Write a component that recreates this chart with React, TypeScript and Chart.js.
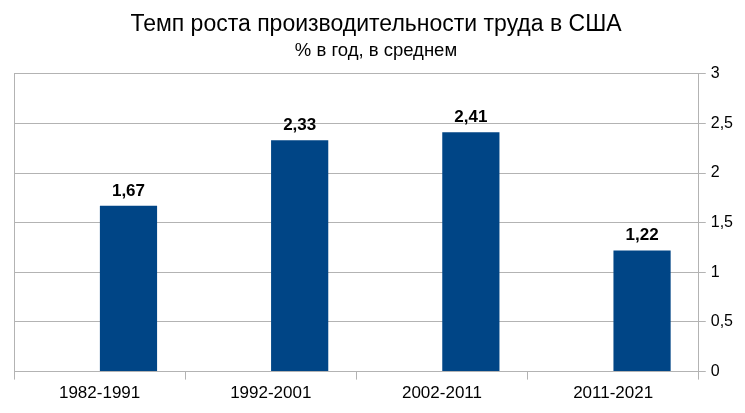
import React, { useEffect, useRef } from "react";
import { Chart, registerables } from "chart.js";

Chart.register(...registerables);

const categories = ["1982-1991", "1992-2001", "2002-2011", "2011-2021"];
const emptySeries = [null, null, null, null];
const values = [1.67, 2.33, 2.41, 1.22];
const yTicks = [0, 0.5, 1, 1.5, 2, 2.5, 3];
const titleText = "Темп роста производительности труда в США";
const subtitleText = "% в год, в среднем";

const FONT = "'Liberation Sans', Arial, sans-serif";
const fmt = (v: number) => String(v).replace(".", ",");

const extras = {
  id: "extras",
  afterDraw(chart: any) {
    const { ctx, chartArea } = chart;
    ctx.save();
    ctx.strokeStyle = "#b3b3b3";
    ctx.lineWidth = 1;
    ctx.beginPath();
    ctx.moveTo(Math.round(chartArea.left) + 0.5, chartArea.top);
    ctx.lineTo(Math.round(chartArea.left) + 0.5, chartArea.bottom);
    ctx.stroke();
    const meta = chart.getDatasetMeta(1);
    ctx.fillStyle = "#000";
    ctx.font = "bold 17px " + FONT;
    ctx.textAlign = "center";
    ctx.textBaseline = "middle";
    meta.data.forEach((el: any, i: number) => {
      ctx.fillText(fmt(values[i]), el.x, el.y - 15);
    });
    ctx.restore();
  },
};

export default function App() {
  const ref = useRef<HTMLCanvasElement>(null);
  useEffect(() => {
    document.body.style.margin = "0";
    const chart = new Chart(ref.current!, {
      type: "bar",
      data: {
        labels: categories,
        datasets: [
          { data: emptySeries as any, backgroundColor: "#ff420e" },
          { data: values, backgroundColor: "#004586" },
        ],
      },
      options: {
        animation: false,
        responsive: false,
        maintainAspectRatio: false,
        layout: { padding: { left: 14, right: 7, top: 0, bottom: 5 } },
        datasets: { bar: { categoryPercentage: 0.675, barPercentage: 0.99 } },
        plugins: {
          legend: { display: false },
          tooltip: { enabled: false },
          title: {
            display: true,
            text: titleText,
            color: "#000",
            font: { family: FONT, size: 23, weight: "normal" },
            padding: { top: 11, bottom: 1 },
          },
          subtitle: {
            display: true,
            text: subtitleText,
            color: "#000",
            font: { family: FONT, size: 18.5, weight: "normal" },
            padding: { top: 0, bottom: 12 },
          },
        },
        scales: {
          x: {
            grid: { display: true, drawOnChartArea: false, offset: true, color: "#b3b3b3", tickLength: 8 },
            border: { display: true, color: "#b3b3b3" },
            ticks: {
              color: "#000",
              padding: 4,
              font: { family: FONT, size: 17 },
            },
          },
          y: {
            position: "right",
            min: 0,
            max: 3,
            afterBuildTicks: (axis: any) => {
              axis.ticks = yTicks.map((v) => ({ value: v }));
            },
            grid: { color: "#b3b3b3", tickLength: 7 },
            border: { display: true, color: "#b3b3b3" },
            ticks: {
              color: "#000",
              padding: 5,
              font: { family: FONT, size: 16 },
              callback: (v: any) => fmt(Number(v)),
            },
          },
        },
      },
      plugins: [extras],
    });
    return () => chart.destroy();
  }, []);
  return <canvas ref={ref} width={745} height={413} style={{ display: "block" }} />;
}
